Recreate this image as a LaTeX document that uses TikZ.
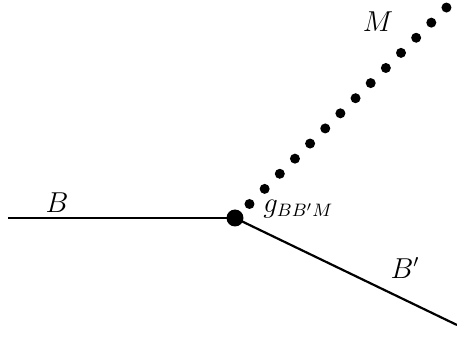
\documentclass[tikz,border=0pt]{standalone}
\begin{document}
\begin{tikzpicture}[x=0.5pt,y=-0.5pt,
  prop/.style={line width=1.1pt},
  dotline/.style={line width=5pt,line cap=round,dash pattern=on 0pt off 10.7pt},
  vtx/.style={circle,fill=black,inner sep=0pt,minimum size=8.5pt},
  lbl/.style={inner sep=0pt,font=\fontsize{13.5}{16}\selectfont}]
\useasboundingbox (0,0) rectangle (457,337);
\node[vtx] (v) at (235,218) {};
\coordinate (bl) at (8,218);
\coordinate (br) at (457,325);
\coordinate (m0) at (249.5,204);
\coordinate (m1) at (447,7);
\draw[prop] (bl) -- (v.center);
\draw[prop] (v.center) -- (br);
\draw[dotline] (m0) -- (m1);
\node[lbl] (lB) at (57,203) {$B$};
\node[lbl] (lBp) at (405,268) {$B'$};
\node[lbl] (lM) at (378,22) {$M$};
\node[lbl,anchor=west] (lg) at (263,209) {$g_{BB'M}$};
\end{tikzpicture}
\end{document}
